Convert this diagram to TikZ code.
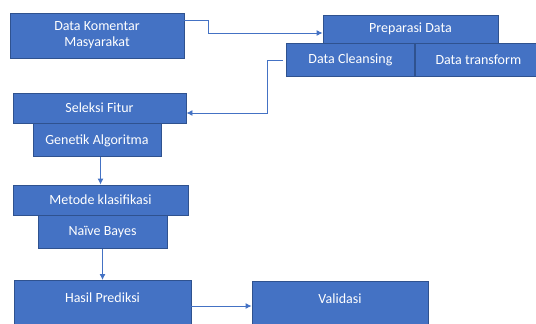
\documentclass[tikz,border=0pt]{standalone}
\usepackage{fontspec}
\setmainfont{Carlito}
\usetikzlibrary{arrows.meta, positioning}
\definecolor{cBox}{RGB}{68, 114, 196}
\definecolor{bBox}{RGB}{47, 82, 143}
\definecolor{cLine}{RGB}{68, 114, 196}

\begin{document}
\begin{tikzpicture}[
    x=1pt, y=-1pt,
    font=\fontsize{14}{16}\selectfont,
    >={Latex[length=6pt,width=6pt]},
    block/.style={
        draw=bBox,
        fill=cBox,
        line width=0.9pt,
        text=white,
        align=center,
        inner sep=0pt
    },
    arrow/.style={->, line width=0.9pt, color=cLine}
]

\useasboundingbox (0,0) rectangle (536,324);

% Input
\node[block, minimum width=174pt, minimum height=45pt] (komentar) at (97, 35.5) {Data Komentar\\Masyarakat};

% Preparasi Data
\node[block, minimum width=175pt, minimum height=28pt] (prep) at (410.5, 29) {Preparasi Data};
\node[block, minimum width=128pt, minimum height=33pt, anchor=north west] (cleansing) at (286, 43) {Data Cleansing};
\node[block, minimum width=126pt, minimum height=33pt, right=0pt of cleansing] (transform) {Data transform};

% Seleksi Fitur
\node[block, minimum width=173pt, minimum height=30pt] (seleksi) at (99.5, 108) {Seleksi Fitur};
\node[block, minimum width=128pt, minimum height=33pt, below=0pt of seleksi, xshift=-2.5pt] (genetik) {Genetik Algoritma};

% Metode klasifikasi
\node[block, minimum width=175pt, minimum height=30pt] (metode) at (100.5, 200) {Metode klasifikasi};
\node[block, minimum width=129pt, minimum height=33pt, below=0pt of metode, xshift=2pt] (naive) {Na\"ive Bayes};

% Hasil dan Validasi
\node[block, minimum width=177pt, text height=22pt, text depth=38pt, anchor=north] (hasil) at (102.5, 280) {Hasil Prediksi};
\node[block, minimum width=176pt, text height=22pt, text depth=38pt, anchor=north] (valid) at (340, 281) {Validasi};

\draw[arrow] ([yshift=-8pt]komentar.north east) -- ++(24,0) |- ([yshift=-4pt]prep.west);
\draw[arrow] ([xshift=-3pt]cleansing.west) -- ++(-16,0) |- ([yshift=-5pt]seleksi.east);
\draw[arrow] (genetik.south -| metode.north) -- (metode.north);
\draw[arrow] (naive) -- (hasil);
\draw[arrow] ([yshift=-26pt]hasil.north east) -- ([yshift=-25pt]valid.north west);

\end{tikzpicture}
\end{document}
